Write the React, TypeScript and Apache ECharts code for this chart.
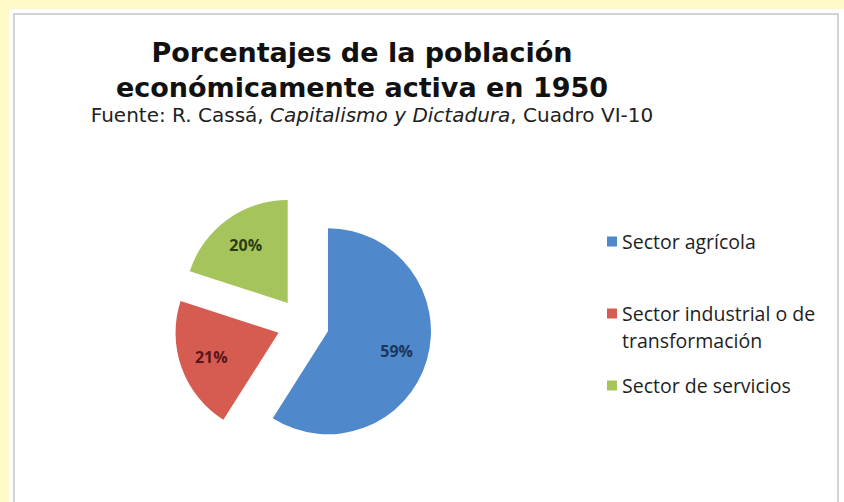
import React, { useEffect, useRef } from "react";
import * as echarts from "echarts";

const titleLines = ["Porcentajes de la población", "económicamente activa en 1950"];
const subtitleParts = ["Fuente: R. Cassá, ", "Capitalismo y Dictadura", ", Cuadro VI-10"];
const categories = [
  "Sector agrícola",
  "Sector industrial o de transformación",
  "Sector de servicios",
];
const legendLabels = [
  "Sector agrícola",
  "\nSector industrial o de\ntransformación",
  "Sector de servicios",
];
const values = [59, 21, 20];
const colors = ["#4f88cb", "#d65c52", "#a5c55c"];
const labelColors = ["#1d3559", "#5a1616", "#2c3b10"];

export default function App() {
  const ref = useRef<HTMLDivElement>(null);
  useEffect(() => {
    if (!ref.current) return;
    const chart = echarts.init(ref.current, undefined, { renderer: "svg" });
    const titleFont = "'DejaVu Sans', Verdana, sans-serif";
    const bodyFont = "'Open Sans', Lato, sans-serif";
    chart.setOption({
      animation: false,
      legend: {
        orient: "vertical",
        left: 607,
        top: 228,
        padding: 0,
        itemGap: 18,
        itemWidth: 10,
        itemHeight: 10,
        icon: "rect",
        selectedMode: false,
        data: categories,
        formatter: (name: string) => legendLabels[categories.indexOf(name)],
        textStyle: { fontFamily: bodyFont, fontSize: 19.5, color: "#1e1e1e", lineHeight: 27 },
      },
      graphic: [
        {
          type: "text",
          x: 362,
          y: 70,
          style: {
            text: titleLines.join("\n"),
            font: `bold 27px ${titleFont}`,
            lineHeight: 35,
            fill: "#111",
            align: "center",
            verticalAlign: "middle",
          },
        },
        {
          type: "text",
          x: 372,
          y: 115,
          style: {
            rich: {
              n: { fontFamily: titleFont, fontSize: 20, fill: "#222", lineHeight: 18 },
              i: { fontFamily: titleFont, fontSize: 20, fontStyle: "italic", fill: "#222", lineHeight: 18 },
            },
            text: `{n|${subtitleParts[0]}}{i|${subtitleParts[1]}}{n|${subtitleParts[2]}}`,
            align: "center",
            verticalAlign: "middle",
          },
        },
      ],
      series: [
        {
          type: "pie",
          center: [303, 324],
          radius: 103,
          startAngle: 90,
          clockwise: true,
          selectedMode: "multiple",
          selectedOffset: 26,
          label: { show: false },
          labelLine: { show: false },
          emphasis: { disabled: true },
          select: { itemStyle: { borderWidth: 0 } },
          data: categories.map((name, i) => ({
            name,
            value: values[i],
            selected: true,
            itemStyle: { color: colors[i] },
          })),
        },
        {
          type: "pie",
          center: [303, 324],
          radius: 137,
          startAngle: 90,
          clockwise: true,
          silent: true,
          selectedMode: "multiple",
          selectedOffset: 26,
          legendHoverLink: false,
          emphasis: { disabled: true },
          select: { itemStyle: { borderWidth: 0, color: "rgba(0,0,0,0)" } },
          labelLine: { show: false },
          label: {
            show: true,
            position: "inside",
            formatter: "{d}%",
            fontFamily: bodyFont,
            fontWeight: "bold",
            fontSize: 16,
          },
          data: categories.map((name, i) => ({
            name,
            value: values[i],
            selected: true,
            itemStyle: { color: "rgba(0,0,0,0)" },
            label: { color: labelColors[i] },
          })),
        },
      ],
    });
    return () => chart.dispose();
  }, []);

  return (
    <div
      style={{
        position: "fixed",
        left: 0,
        top: 0,
        width: 844,
        height: 502,
        background: "#fff9c8",
        overflow: "hidden",
      }}
    >
      <div
        style={{
          position: "absolute",
          left: 9,
          top: 9,
          width: 835,
          height: 493,
          background: "#ffffff",
        }}
      />
      <div
        style={{
          position: "absolute",
          left: 13,
          top: 13,
          width: 826,
          height: 500,
          border: "2px solid #d2d2d2",
          boxSizing: "border-box",
        }}
      />
      <div ref={ref} style={{ position: "absolute", left: 0, top: 0, width: 844, height: 502 }} />
    </div>
  );
}
